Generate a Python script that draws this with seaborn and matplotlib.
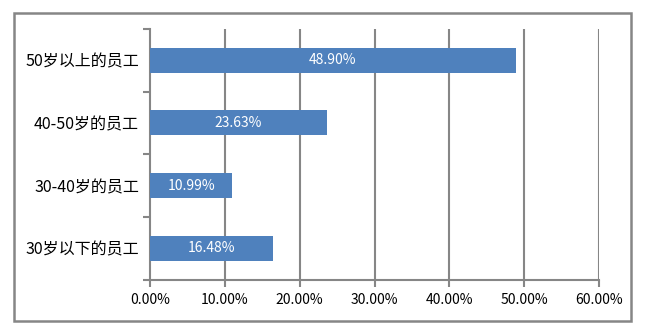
import matplotlib
matplotlib.use("Agg")
import matplotlib.pyplot as plt
import seaborn as sns
import pandas as pd
from matplotlib.patches import Rectangle
from matplotlib.ticker import FixedLocator

categories = ["50岁以上的员工", "40-50岁的员工", "30-40岁的员工", "30岁以下的员工"]
shares = [48.90, 23.63, 10.99, 16.48]
x_ticks = [0, 10, 20, 30, 40, 50, 60]
x_tick_labels = ["0.00%", "10.00%", "20.00%", "30.00%", "40.00%", "50.00%", "60.00%"]

df = pd.DataFrame({"group": categories, "share": shares})

sns.set_theme(style="white")
plt.rcParams["font.family"] = ["Noto Sans CJK SC", "DejaVu Sans"]

GRID = "#868686"
BAR = "#4F81BD"

fig = plt.figure(figsize=(6.5, 3.28), dpi=100)
ax = fig.add_axes([150 / 650, 1 - 279.5 / 328, (599 - 150) / 650, (279.5 - 29) / 328])

sns.barplot(data=df, x="share", y="group", order=categories, color=BAR,
            saturation=1, width=0.4, linewidth=0, edgecolor="none", ax=ax, zorder=3)

ax.set_xlim(0, 60)
ax.set_ylim(3.5, -0.5)
ax.set_xticks(x_ticks)
ax.set_xticklabels(x_tick_labels, fontsize=10, color="black")
ax.set_xlabel("")
ax.set_ylabel("")
ax.tick_params(axis="y", which="major", labelsize=11.5, labelcolor="black",
               length=0, pad=8, left=True)
ax.tick_params(axis="x", length=5, width=1.5, color=GRID, direction="out",
               pad=5, bottom=True)

# Vertical gridlines
for t in x_ticks[1:]:
    ax.axvline(t, color=GRID, lw=1.5, zorder=1)

for s in ["top", "right"]:
    ax.spines[s].set_visible(False)
for s in ["left", "bottom"]:
    ax.spines[s].set_color(GRID)
    ax.spines[s].set_linewidth(1.5)

# Category separator ticks on the left axis
ax.yaxis.set_minor_locator(FixedLocator([-0.5, 0.5, 1.5, 2.5, 3.5]))
ax.tick_params(axis="y", which="minor", length=5, width=1.5, color=GRID,
               direction="out", left=True)

# Value labels centred in bars
for container in ax.containers:
    ax.bar_label(container, labels=[f"{v:.2f}%" for v in shares],
                 label_type="center", color="white", fontsize=10)

# Outer frame
fig.patches.append(Rectangle((14 / 650, 1 - 321 / 328), (631 - 14) / 650, (321 - 13) / 328,
                             transform=fig.transFigure, fill=False,
                             edgecolor=GRID, linewidth=1.8))

fig.savefig("out.png", dpi=100)
